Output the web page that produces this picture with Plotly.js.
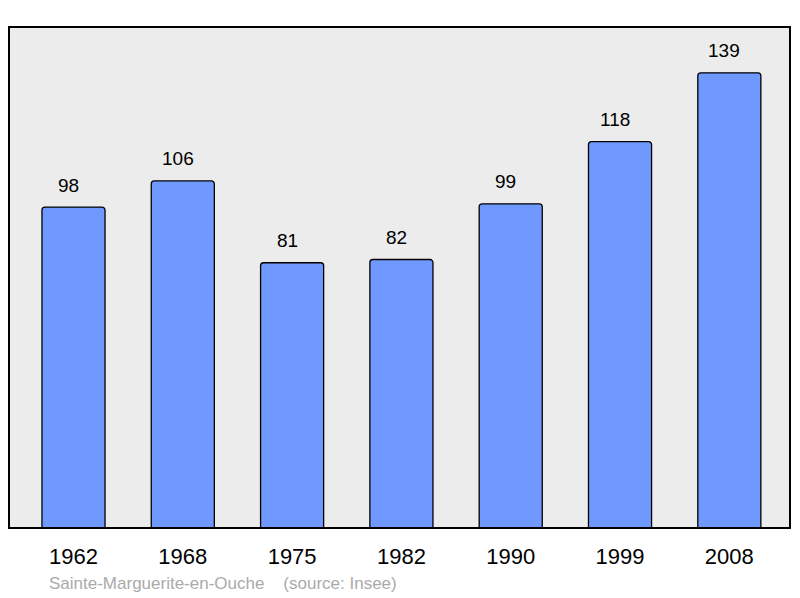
<!DOCTYPE html>
<html>
<head>
<meta charset="utf-8">
<script src="https://cdn.plot.ly/plotly-3.0.1.min.js"></script>
<style>html,body{margin:0;padding:0;background:#fff;}#chart{width:800px;height:598px;}</style>
</head>
<body>
<div id="chart"></div>
<script>
var years = ["1962", "1968", "1975", "1982", "1990", "1999", "2008"];
var population = [98, 106, 81, 82, 99, 118, 139];
var sourceText = "Sainte-Marguerite-en-Ouche &nbsp;&nbsp;&nbsp;(source: Insee)";

var xIdx = years.map(function (_, i) { return i; });

var trace = {
  type: "bar",
  x: xIdx,
  y: population,
  width: 0.577,
  marker: {color: "#7099ff", line: {color: "#000", width: 1.3}, cornerradius: 3},
  hoverinfo: "skip"
};

var annotations = xIdx.map(function (i) {
  return {
    x: i, y: population[i], xref: "x", yref: "y",
    text: String(population[i]), showarrow: false,
    xanchor: "center", yanchor: "bottom", yshift: 9.5, xshift: -5,
    font: {family: "Liberation Sans, Arial, sans-serif", size: 19, color: "#000"}
  };
});
annotations.push({
  xref: "paper", yref: "paper", x: 0.049, y: -0.11,
  xanchor: "left", yanchor: "middle", showarrow: false,
  text: sourceText,
  font: {family: "Liberation Sans, Arial, sans-serif", size: 17, color: "#aaaaaa"}
});

var layout = {
  width: 800, height: 598,
  margin: {l: 9, r: 10, t: 27, b: 70},
  paper_bgcolor: "#ffffff",
  plot_bgcolor: "#ececec",
  showlegend: false,
  xaxis: {
    type: "linear",
    range: [-0.59, 6.555],
    tickmode: "array",
    tickvals: xIdx,
    ticktext: years,
    showgrid: false, zeroline: false, showline: false,
    ticks: "", ticklabelstandoff: 13,
    tickfont: {family: "Liberation Sans, Arial, sans-serif", size: 22, color: "#000"}
  },
  yaxis: {
    range: [0, 153],
    showgrid: false, zeroline: false, showline: false,
    showticklabels: false, ticks: ""
  },
  shapes: [{
    type: "rect", xref: "paper", yref: "paper", x0: 0, x1: 1, y0: 0, y1: 1,
    line: {color: "#000", width: 2}, layer: "above"
  }],
  annotations: annotations
};

Plotly.newPlot("chart", [trace], layout, {staticPlot: true, displayModeBar: false});
</script>
</body>
</html>
